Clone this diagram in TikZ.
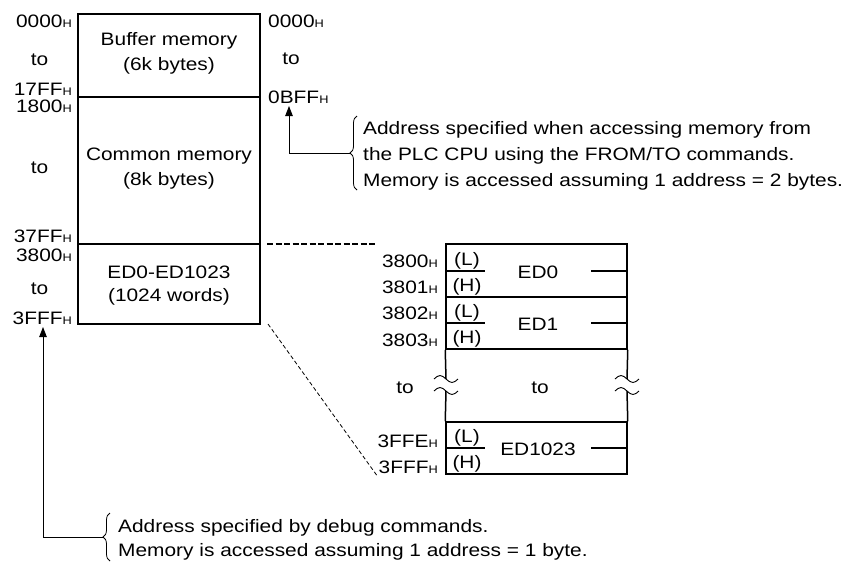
\documentclass[tikz,border=0pt]{standalone}
\usepackage{fontspec}
\setmainfont{Liberation Sans}[FakeStretch=1.16]
\usetikzlibrary{arrows.meta,decorations.pathreplacing}
\newcommand{\hsub}{{\fontsize{11}{11}\selectfont H}}
\begin{document}
\begin{tikzpicture}[x=1pt,y=-1pt,
  txt/.style={inner sep=0pt,font=\fontsize{18}{24}\selectfont},
  lbl/.style={txt,anchor=base east},
  rlbl/.style={txt,anchor=base west},
  ctr/.style={txt,anchor=base},
  membox/.style={draw,line width=1.5pt,minimum width=182pt,inner sep=0pt},
  rowbox/.style={draw,line width=1.5pt,minimum width=181pt,inner sep=0pt},
  tabline/.style={line width=1.5pt},
  conn/.style={line width=0.9pt},
  arr/.style={conn,-{Triangle[length=10pt,width=7.5pt]}},
  brc/.style={decorate,decoration={brace,amplitude=7pt},line width=0.8pt},
  dashA/.style={line width=1.3pt,dash pattern=on 6pt off 2.5pt},
  dashB/.style={line width=0.8pt,dash pattern=on 4pt off 2.5pt},
]
\useasboundingbox (0,0) rectangle (854,566);

% main memory map
\node[membox,minimum height=83pt] (buf) at (169,55.5) {};
\node[membox,minimum height=147pt] (com) at (169,170.5) {};
\node[membox,minimum height=80pt] (edm) at (169,284) {};

\node[ctr] (buf1) at (169,45) {Buffer memory};
\node[ctr] (buf2) at (169,70) {(6k bytes)};
\node[ctr] (com1) at (169,160) {Common memory};
\node[ctr] (com2) at (169,185) {(8k bytes)};
\node[ctr] (edm1) at (169,278) {ED0-ED1023};
\node[ctr] (edm2) at (169,301) {(1024 words)};

% left addresses
\node[lbl] (l0000) at (72,27) {0000\hsub};
\node[ctr] (lto1) at (39.5,65) {to};
\node[lbl] (l17ff) at (72,95) {17FF\hsub};
\node[lbl] (l1800) at (72,112) {1800\hsub};
\node[ctr] (lto2) at (39.5,173) {to};
\node[lbl] (l37ff) at (72,242) {37FF\hsub};
\node[lbl] (l3800) at (72,261) {3800\hsub};
\node[ctr] (lto3) at (39.5,294) {to};
\node[lbl] (l3fff) at (72,324) {3FFF\hsub};

% right addresses
\node[rlbl] (r0000) at (268,27) {0000\hsub};
\node[ctr] (rto) at (291,64) {to};
\node[rlbl] (r0bff) at (268,103) {0BFF\hsub};

% top annotation
\coordinate (tipA) at (289,106);
\coordinate (brA) at (350,153);
\draw[brc] (357,190) -- (357,116);
\draw[arr] (brA) -| (tipA);
\node[rlbl] (ta1) at (363,134) {Address specified when accessing memory from};
\node[rlbl] (ta2) at (363,160) {the PLC CPU using the FROM/TO commands.};
\node[rlbl] (ta3) at (363,186) {Memory is accessed assuming 1 address = 2 bytes.};

% bottom annotation
\coordinate (tipB) at (43,327);
\coordinate (brB) at (103,537);
\draw[brc] (110,561) -- (110,513);
\draw[arr] (brB) -| (tipB);
\node[rlbl] (ba1) at (118,532) {Address specified by debug commands.};
\node[rlbl] (ba2) at (118,556) {Memory is accessed assuming 1 address = 1 byte.};

% dashed guide lines
\coordinate (dh1) at (267,244);
\coordinate (dh2) at (377,244);
\coordinate (dd1) at (268,324);
\coordinate (dd2) at (378,477);
\draw[dashA] (dh1) -- (dh2);
\draw[dashB] (dd1) -- (dd2);

% detail table
\node[rowbox,minimum height=53pt] (row0) at (536.5,270.5) {};
\node[rowbox,minimum height=52pt] (row1) at (536.5,323) {};
\node[rowbox,minimum height=52pt] (rowN) at (536.5,448) {};

\draw[tabline] (446,271) -- (485,271);
\draw[tabline] (591,271) -- (627,271);
\draw[tabline] (446,323) -- (485,323);
\draw[tabline] (591,323) -- (627,323);
\draw[tabline] (446,448) -- (485,448);
\draw[tabline] (591,448) -- (627,448);

% broken sides
\draw[tabline] (row1.south west) -- (446,379);
\draw[tabline] (row1.south east) -- (627,379);
\draw[tabline] (446,391) -- (rowN.north west);
\draw[tabline] (627,391) -- (rowN.north east);
\foreach \xx in {446,627}{
  \foreach \yy in {379,391}{
    \draw[line width=0.9pt] (\xx-12,\yy) sin (\xx-6,\yy-3.5) cos (\xx,\yy) sin (\xx+6,\yy+3.5) cos (\xx+12,\yy);
  }
}

\node[lbl] (a3800) at (438,267) {3800\hsub};
\node[lbl] (a3801) at (438,293) {3801\hsub};
\node[lbl] (a3802) at (438,319) {3802\hsub};
\node[lbl] (a3803) at (438,346) {3803\hsub};
\node[lbl] (a3ffe) at (438,447) {3FFE\hsub};
\node[lbl] (a3fff) at (438,473) {3FFF\hsub};

\node[ctr] (l0) at (467,265) {(L)};
\node[ctr] (h0) at (467,291) {(H)};
\node[ctr] (l1) at (467,317) {(L)};
\node[ctr] (h1) at (467,343) {(H)};
\node[ctr] (lN) at (467,442) {(L)};
\node[ctr] (hN) at (467,468) {(H)};

\node[ctr] (ed0) at (538,278) {ED0};
\node[ctr] (ed1) at (538,330) {ED1};
\node[ctr] (edN) at (538,455) {ED1023};

\node[ctr] (tto1) at (405,393) {to};
\node[ctr] (tto2) at (540,393) {to};
\end{tikzpicture}
\end{document}
